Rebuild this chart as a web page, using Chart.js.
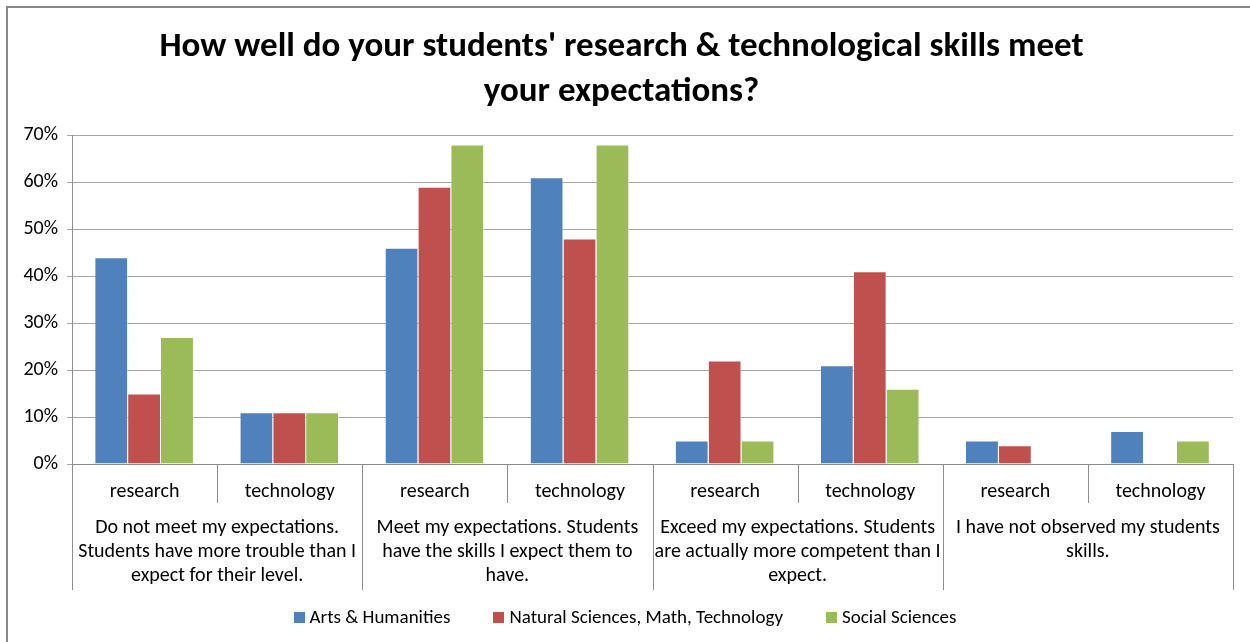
<!DOCTYPE html>
<html>
<head>
<meta charset="utf-8">
<script src="https://cdn.jsdelivr.net/npm/chart.js@4/dist/chart.umd.min.js"></script>
<style>
  body { margin: 0; background: #fff; }
  #wrap { position: relative; width: 1250px; height: 642px; }
  #frame { position: absolute; left: 6px; top: 6px; right: 0; bottom: 0; border-top: 2px solid #888; border-left: 2px solid #888; pointer-events: none; }
  #legend { position: absolute; left: 0; right: 0; top: 605px; display: flex; justify-content: center; gap: 43px;
            font: 19px Calibri, Carlito, Lato, sans-serif; color: #000; line-height: 24px; }
  #legend span.item { display: flex; align-items: center; }
  #legend i { display: inline-block; width: 11px; height: 11px; margin-right: 5px; }
</style>
</head>
<body>
<div id="wrap">
  <canvas id="chart" width="1250" height="642"></canvas>
  <div id="legend"></div>
  <div id="frame"></div>
</div>
<script>
// data
const subLabels = ["research", "technology", "research", "technology", "research", "technology", "research", "technology"];
const groupLabels = [
  ["Do not meet my expectations.", "Students have more trouble than I", "expect for their level."],
  ["Meet my expectations. Students", "have the skills I expect them to", "have."],
  ["Exceed my expectations. Students", "are actually more competent than I", "expect."],
  ["I have not observed my students", "skills."]
];
const seriesNames = ["Arts & Humanities", "Natural Sciences, Math, Technology", "Social Sciences"];
const arts = [44, 11, 46, 61, 5, 21, 5, 7];
const natural = [15, 11, 59, 48, 22, 41, 4, 0];
const social = [27, 11, 68, 68, 5, 16, 0, 5];
const colors = ["#4f81bd", "#c0504d", "#9bbb59"];

const font = "Calibri, Carlito, Lato, sans-serif";
const axisColor = "#8c8c8c";

// multi-level category axis
const groupAxis = {
  id: "groupAxis",
  afterDraw(chart) {
    const ctx = chart.ctx;
    const x = chart.scales.x;
    const top = chart.chartArea.bottom;
    const n = subLabels.length;
    const step = x.getPixelForValue(1) - x.getPixelForValue(0);
    ctx.save();
    ctx.strokeStyle = axisColor;
    ctx.lineWidth = 1;
    for (let i = 0; i <= n; i++) {
      const px = Math.round(x.getPixelForValue(i) - step / 2) + 0.5;
      const len = i % 2 === 0 ? 126 : 39;
      ctx.beginPath();
      ctx.moveTo(px, top);
      ctx.lineTo(px, top + len);
      ctx.stroke();
    }
    ctx.fillStyle = "#000";
    ctx.font = "20px " + font;
    ctx.textAlign = "center";
    ctx.textBaseline = "middle";
    groupLabels.forEach((lines, g) => {
      const cx = (x.getPixelForValue(g * 2) + x.getPixelForValue(g * 2 + 1)) / 2;
      lines.forEach((t, k) => ctx.fillText(t, cx, top + 64 + k * 24));
    });
    ctx.restore();
  }
};

// legend
const legendEl = document.getElementById("legend");
seriesNames.forEach((name, i) => {
  const item = document.createElement("span");
  item.className = "item";
  const box = document.createElement("i");
  box.style.background = colors[i];
  item.appendChild(box);
  item.appendChild(document.createTextNode(name));
  legendEl.appendChild(item);
});

new Chart(document.getElementById("chart"), {
  type: "bar",
  data: {
    labels: subLabels,
    datasets: seriesNames.map((name, i) => ({
      label: name,
      data: [arts, natural, social][i],
      backgroundColor: colors[i],
      borderColor: "rgba(255,255,255,0.6)",
      borderWidth: { top: 1, left: 0, right: 1, bottom: 0 },
      categoryPercentage: 0.68,
      barPercentage: 1
    }))
  },
  options: {
    responsive: false,
    animation: false,
    layout: { padding: { left: 10, right: 17, top: 0, bottom: 43 } },
    plugins: {
      title: {
        display: true,
        text: ["How well do your students' research & technological skills meet", "your expectations?"],
        color: "#000",
        font: { family: font, size: 35, weight: "bold", lineHeight: 1.3 },
        padding: { top: 24, bottom: 20 }
      },
      legend: { display: false },
      tooltip: { enabled: false }
    },
    scales: {
      x: {
        grid: { display: false },
        border: { color: axisColor },
        ticks: { color: "#000", font: { family: font, size: 20 }, padding: 8 },
        afterFit(scale) { scale.height = 135; }
      },
      y: {
        min: 0,
        max: 70,
        ticks: {
          stepSize: 10,
          color: "#000",
          font: { family: font, size: 20 },
          padding: 9,
          callback: v => v + "%"
        },
        grid: { color: "#a6a6a6", tickLength: 5 },
        border: { color: axisColor },
        afterFit(scale) { scale.width = 62; }
      }
    }
  },
  plugins: [groupAxis]
});
</script>
</body>
</html>
